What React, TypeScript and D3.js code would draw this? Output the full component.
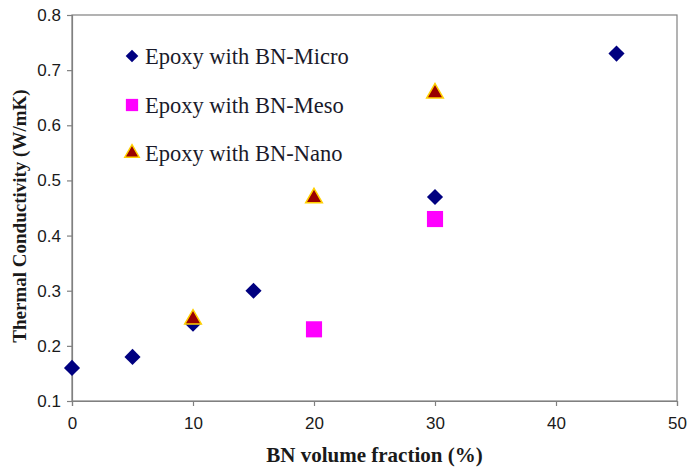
import React, { useEffect, useRef } from 'react';
import * as d3 from 'd3';

// BN volume fraction (%) vs thermal conductivity (W/mK)
const microX = [0, 5, 10, 15, 30, 45];
const microY = [0.16, 0.18, 0.24, 0.3, 0.47, 0.73];
const mesoX = [20, 30];
const mesoY = [0.23, 0.43];
const nanoX = [10, 20, 30];
const nanoY = [0.25, 0.47, 0.66];

const xTicks = [0, 10, 20, 30, 40, 50];
const yTicks = [0.1, 0.2, 0.3, 0.4, 0.5, 0.6, 0.7, 0.8];
const legendLabels = ['Epoxy with BN-Micro', 'Epoxy with BN-Meso', 'Epoxy with BN-Nano'];

const W = 690, H = 471;
const serif = '"Liberation Serif", "Times New Roman", serif';
const sans = '"Liberation Sans", Arial, sans-serif';

function zip(xs: number[], ys: number[]) {
  return xs.map((x, i) => [x, ys[i]]);
}

export default function App() {
  const ref = useRef<SVGSVGElement>(null);

  useEffect(() => {
    const margin = { left: 72, right: 13, top: 15, bottom: 70 };
    const width = W - margin.left - margin.right,
          height = H - margin.top - margin.bottom;

    const svg = d3.select(ref.current);
    svg.selectAll('*').remove();

    const x = d3.scaleLinear().domain([0, 50]).range([0, width]);
    const y = d3.scaleLinear().domain([0.1, 0.8]).range([height, 0]);

    const g = svg.append('g')
      .attr('transform', 'translate(' + margin.left + ',' + margin.top + ')');

    // frame
    g.append('rect')
      .attr('x', 0).attr('y', 0)
      .attr('width', width).attr('height', height)
      .attr('fill', 'none')
      .attr('stroke', '#808080')
      .attr('stroke-width', 1.2);

    const xAxis = d3.axisBottom(x).tickValues(xTicks).tickSize(5).tickPadding(11).tickFormat(d3.format('d'));
    const yAxis = d3.axisLeft(y).tickValues(yTicks).tickSize(5).tickPadding(6).tickFormat(d3.format('.1f'));

    const gx = g.append('g').attr('transform', 'translate(0,' + height + ')').call(xAxis);
    const gy = g.append('g').call(yAxis);
    for (const ax of [gx, gy]) {
      ax.select('.domain').attr('stroke', '#808080').attr('stroke-width', 1.2);
      ax.selectAll('.tick line').attr('stroke', '#808080').attr('stroke-width', 1.2);
      ax.selectAll('.tick text')
        .attr('fill', '#1a1a1a')
        .style('font-family', sans)
        .style('font-size', '17px');
    }

    // axis titles
    svg.append('text')
      .attr('x', margin.left + width / 2)
      .attr('y', 462)
      .attr('text-anchor', 'middle')
      .style('font-family', serif)
      .style('font-weight', 'bold')
      .style('font-size', '21px')
      .attr('fill', '#1a1a1a')
      .text('BN volume fraction (%)');

    svg.append('text')
      .attr('transform', 'translate(26,216) rotate(-90)')
      .attr('text-anchor', 'middle')
      .style('font-family', serif)
      .style('font-weight', 'bold')
      .style('font-size', '19px')
      .attr('fill', '#1a1a1a')
      .text('Thermal Conductivity (W/mK)');

    const diamond = d3.symbol().type(d3.symbolSquare).size(130);
    const square = d3.symbol().type(d3.symbolSquare).size(260);
    const triangle = d3.symbol().type(d3.symbolTriangle).size(120);

    const drawMicro = (sel: any) => sel.append('path')
      .attr('d', diamond())
      .attr('fill', '#000080')
      .attr('transform', (d: number[]) => 'translate(' + x(d[0]) + ',' + y(d[1]) + ') rotate(45)');
    const drawMeso = (sel: any) => sel.append('path')
      .attr('d', square())
      .attr('fill', '#ff00ff')
      .attr('transform', (d: number[]) => 'translate(' + x(d[0]) + ',' + y(d[1]) + ')');
    const drawNano = (sel: any) => sel.append('path')
      .attr('d', triangle())
      .attr('fill', '#990000')
      .attr('stroke', '#ffd000')
      .attr('stroke-width', 1.5)
      .attr('transform', (d: number[]) => 'translate(' + x(d[0]) + ',' + (y(d[1]) + 1) + ')');

    g.append('g').selectAll('g').data(zip(microX, microY)).join('g').call(drawMicro);
    g.append('g').selectAll('g').data(zip(mesoX, mesoY)).join('g').call(drawMeso);
    g.append('g').selectAll('g').data(zip(nanoX, nanoY)).join('g').call(drawNano);

    // legend
    const legendX = 132, legendY = [56, 105, 153];
    const drawers = [
      (s: any) => s.append('path').attr('d', d3.symbol().type(d3.symbolSquare).size(80)()).attr('fill', '#000080').attr('transform', 'rotate(45)'),
      (s: any) => s.append('path').attr('d', d3.symbol().type(d3.symbolSquare).size(150)()).attr('fill', '#ff00ff'),
      (s: any) => s.append('path').attr('d', d3.symbol().type(d3.symbolTriangle).size(90)()).attr('fill', '#990000').attr('stroke', '#ffd000').attr('stroke-width', 1.5),
    ];
    legendLabels.forEach((label, i) => {
      const lg = svg.append('g').attr('transform', 'translate(' + legendX + ',' + legendY[i] + ')');
      drawers[i](lg);
      lg.append('text')
        .attr('x', 13)
        .attr('y', 8)
        .style('font-family', serif)
        .style('font-size', '22.5px')
        .attr('fill', '#1a1a2a')
        .text(label);
    });
  }, []);

  return (
    <svg ref={ref} width={W} height={H}
      style={{ position: 'absolute', left: 0, top: 0, background: '#fff' }} />
  );
}
